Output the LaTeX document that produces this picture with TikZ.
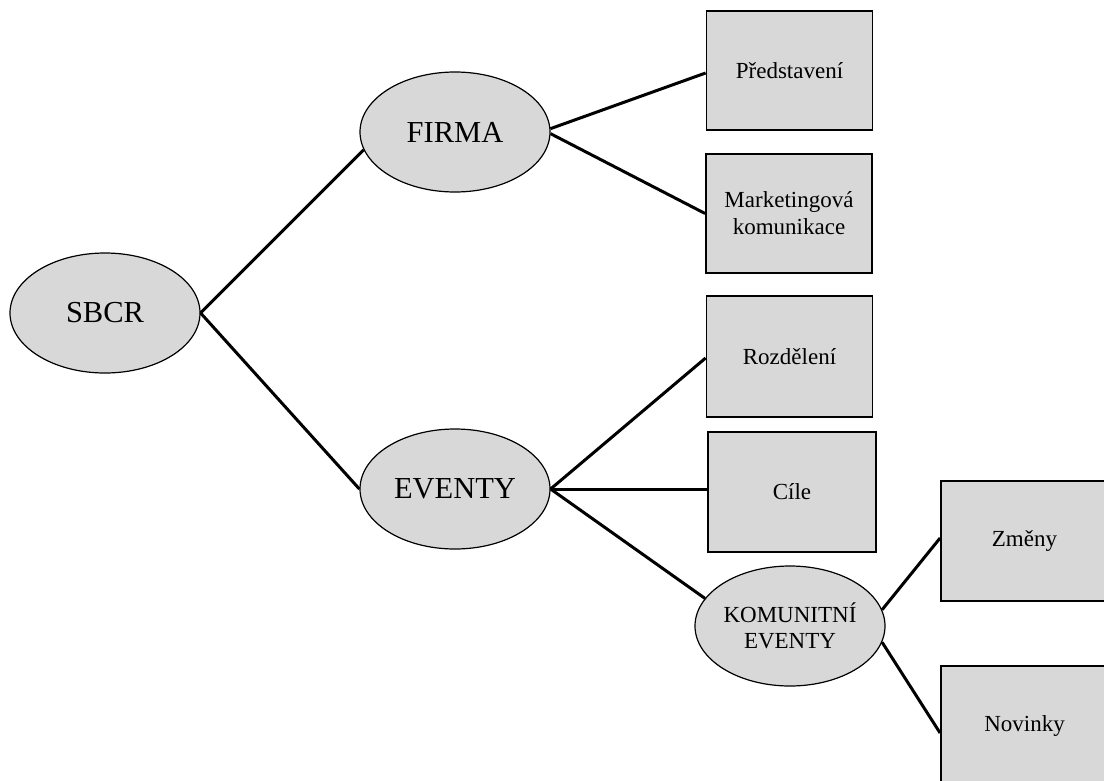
\documentclass[tikz,border=0pt]{standalone}
\usepackage{fontspec}
\setmainfont{Liberation Serif}
\definecolor{nodefill}{RGB}{216,216,216}
\tikzset{
  topic/.style={ellipse, draw=black, line width=1.2pt, fill=nodefill,
    minimum width=190pt, minimum height=120pt, inner sep=0pt,
    font=\fontsize{30.5}{36}\selectfont},
  subtopic/.style={ellipse, draw=black, line width=1.2pt, fill=nodefill,
    minimum width=190pt, minimum height=120pt, inner sep=0pt, align=center,
    font=\fontsize{23}{26.5}\selectfont},
  leaf/.style={rectangle, draw=black, line width=1.8pt, fill=nodefill,
    minimum width=166pt, minimum height=119pt, inner sep=0pt, align=center,
    font=\fontsize{23}{27}\selectfont},
  link/.style={draw=black, line width=3pt}
}
\usetikzlibrary{shapes.geometric}
\begin{document}
\begin{tikzpicture}[x=1pt, y=-1pt]
  \useasboundingbox (0,0) rectangle (1104,780);
  \clip (0,0) rectangle (1104,780);

  % ellipses
  \node[topic] (sbcr) at (105,313) {SBCR};
  \node[topic] (fir) at (455,132) {FIRMA};
  \node[topic] (evt) at (455,489) {EVENTY};
  \node[subtopic] (kom) at (790,626) {KOMUNITNÍ\\EVENTY};

  % boxes
  \node[leaf] (pred) at (789.5,70.5) {Představení};
  \node[leaf] (mark) at (789,213.5) {Marketingová\\komunikace};
  \node[leaf, minimum height=121pt] (roz) at (789.5,356.5) {Rozdělení};
  \node[leaf, minimum width=168pt, minimum height=120pt] (cil) at (792,492) {Cíle};
  \node[leaf, minimum width=167pt, minimum height=120pt] (zme) at (1024.5,541) {Změny};
  \node[leaf, minimum width=167pt, minimum height=120pt] (nov) at (1024.5,726) {Novinky};

  % connectors
  \draw[link] (sbcr.east) -- (fir.191);
  \draw[link] (sbcr.east) -- (evt.west);
  \draw[link] (fir.2) -- ([yshift=-2.5pt]pred.west);
  \draw[link] (fir.-1) -- (mark.west);
  \draw[link] (evt.east) -- ([yshift=-1.5pt]roz.west);
  \draw[link] (evt.east) -- ([yshift=3pt]cil.west);
  \draw[link] (evt.east) -- (kom.162);
  \draw[link] (kom.10) -- ([yshift=3pt]zme.west);
  \draw[link] (kom.-10) -- ([yshift=-7pt]nov.west);
\end{tikzpicture}
\end{document}
